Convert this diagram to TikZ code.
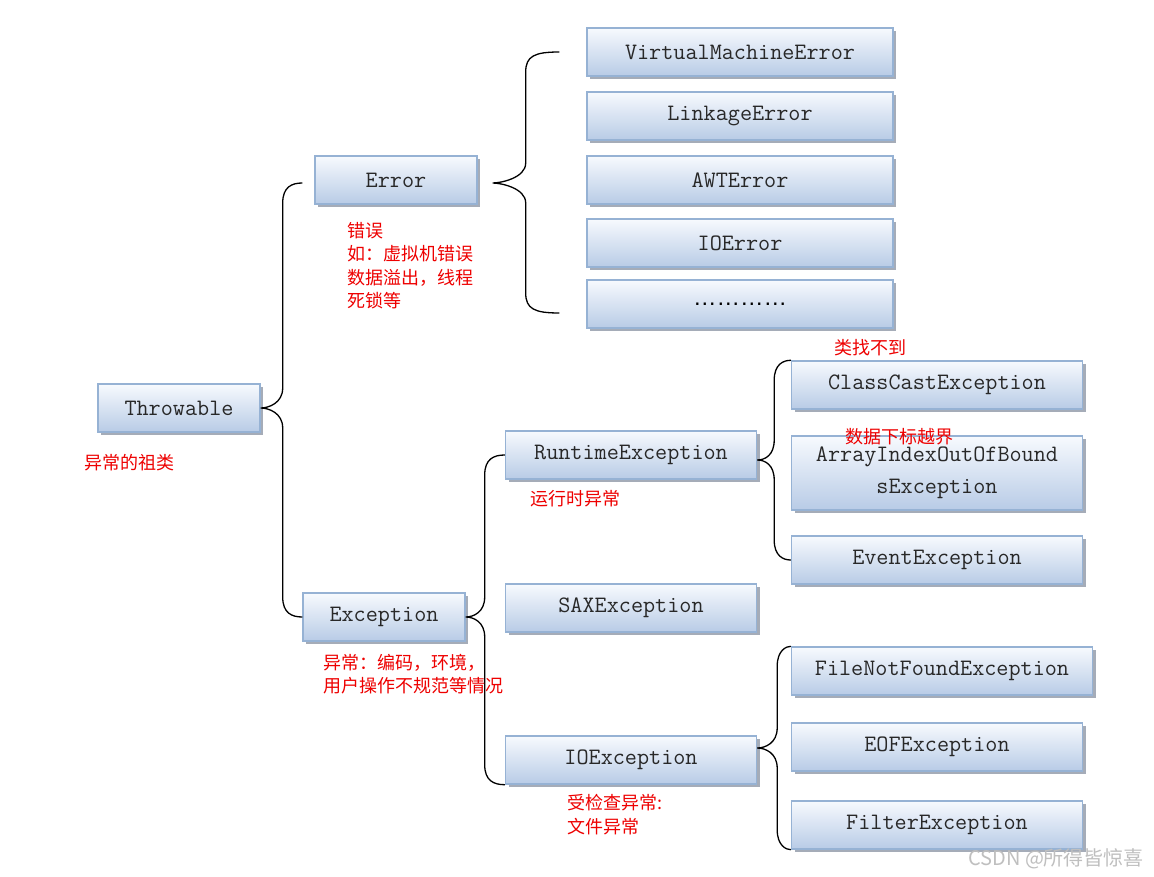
\documentclass[tikz,border=0pt]{standalone}
\usepackage{fontspec}
\newfontfamily\cjk{Noto Sans CJK SC}
\newfontfamily\lsans{Liberation Sans}
\usetikzlibrary{shadows,calc}
\definecolor{boxborder}{RGB}{150,178,212}
\definecolor{boxtop}{RGB}{247,250,254}
\definecolor{boxbot}{RGB}{184,203,230}
\definecolor{shadowc}{RGB}{150,158,172}
\definecolor{boxtext}{RGB}{40,40,40}
\definecolor{redtext}{RGB}{238,0,0}
\newcommand\clbrace[4]{%
 \draw[bracel] let \p1=(#1),\p2=(#2),\p3=(#3) in
 (\p2) .. controls ($(\x1+#4+9pt,\y2)$) and ($(\x1+#4,\y2-4pt)$) .. ($(\x1+#4,\y2-20pt)$)
 -- ($(\x1+#4,\y1+20pt)$) .. controls ($(\x1+#4,\y1+5pt)$) and ($(\x1+8pt,\y1)$) .. (\p1)
 .. controls ($(\x1+8pt,\y1)$) and ($(\x1+#4,\y1-5pt)$) .. ($(\x1+#4,\y1-20pt)$)
 -- ($(\x1+#4,\y3+20pt)$) .. controls ($(\x1+#4,\y3+4pt)$) and ($(\x1+#4+9pt,\y3)$) .. (\p3);}
\begin{document}
\begin{tikzpicture}[x=1pt,y=-1pt,
 cls/.style={draw=boxborder, line width=1.4pt, top color=boxtop, bottom color=boxbot,
   drop shadow={shadow xshift=3pt,shadow yshift=-3pt,fill=shadowc,opacity=0.85},
   font=\fontsize{23.5}{25}\selectfont\ttfamily, text=boxtext, inner sep=0pt,
   minimum height=48pt, align=center},
 wide/.style={cls, minimum width=306pt},
 mid/.style={cls, minimum width=162pt},
 rtw/.style={cls, minimum width=251pt},
 rgt/.style={cls, minimum width=291pt},
 note/.style={anchor=base west, inner sep=0pt, text=redtext, font=\cjk\fontsize{18}{23}\selectfont},
 bracel/.style={draw=black, line width=1.3pt}]
\useasboundingbox (0,0) rectangle (1154,877);
\fill[white] (0,0) rectangle (1154,877);

% Error subclasses
\node[wide] (vme) at (740,52) {VirtualMachineError};
\node[wide] (lnk) at (740,116) {LinkageError};
\node[wide] (awt) at (740,180) {AWTError};
\node[wide] (ioerr) at (740,243) {IOError};
\node[wide] (dots) at (740,304) {\lsans\textcolor{black}{…………}};

% main
\node[mid] (err) at (396,180) {Error};
\node[mid] (thr) at (179,408) {Throwable};
\node[mid] (exc) at (384,617) {Exception};

\node[rtw] (rt) at (631,455) {RuntimeException};
\node[rtw] (sax) at (631,608) {SAXException};
\node[rtw] (ioe) at (631,760) {IOException};

\node[rgt] (cc) at (937,385) {ClassCastException};
\node[rgt, minimum height=74pt, font=\fontsize{23.5}{32}\selectfont\ttfamily] (aio) at (937,473) {ArrayIndexOutOfBound\\sException};
\node[rgt] (ev) at (937,560) {EventException};
\node[cls, minimum width=301pt] (fnf) at (942,671) {FileNotFoundException};
\node[rgt] (eof) at (937,747) {EOFException};
\node[rgt] (flt) at (937,825) {FilterException};

% braces
\coordinate (b1t) at ([xshift=-12pt,yshift=-3pt]err.west);
\clbrace{thr.east}{b1t}{exc.west}{22pt}
\coordinate (b2tip) at ([xshift=15pt,yshift=-3pt]err.east);
\coordinate (b2t) at ([xshift=-27pt]vme.west);
\coordinate (b2b) at ([xshift=-27pt,yshift=-9pt]dots.west);
\clbrace{b2tip}{b2t}{b2b}{33pt}
\clbrace{exc.east}{rt.west}{ioe.south west}{19pt}
\coordinate (b4tip) at ([yshift=-5pt]rt.east);
\clbrace{b4tip}{cc.north west}{ev.west}{17pt}
\coordinate (b5tip) at ([yshift=12pt]ioe.east);
\clbrace{b5tip}{fnf.north west}{flt.south west}{20pt}

% notes
\node[note] (n1) at (347,238) {错误};
\node[note] (n2) at (347,261) {如：虚拟机错误};
\node[note] (n3) at (347,285) {数据溢出，线程};
\node[note] (n4) at (347,308) {死锁等};
\node[note] (n5) at (84,469) {异常的祖类};
\node[note] (n6) at (834,355) {类找不到};
\node[note] (n7) at (845,443) {数据下标越界};
\node[note] (n8) at (530,505) {运行时异常};
\node[note] (n9) at (323,669) {异常：编码，环境，};
\node[note] (n10) at (323,692) {用户操作不规范等情况};
\node[note] (n11) at (567,809) {受检查异常:};
\node[note] (n12) at (567,833) {文件异常};

% watermark
\node[anchor=base west, inner sep=0pt, text=black!25, font=\cjk\fontsize{20}{22}\selectfont] (wm) at (968,865) {CSDN @所得皆惊喜};
\end{tikzpicture}
\end{document}
